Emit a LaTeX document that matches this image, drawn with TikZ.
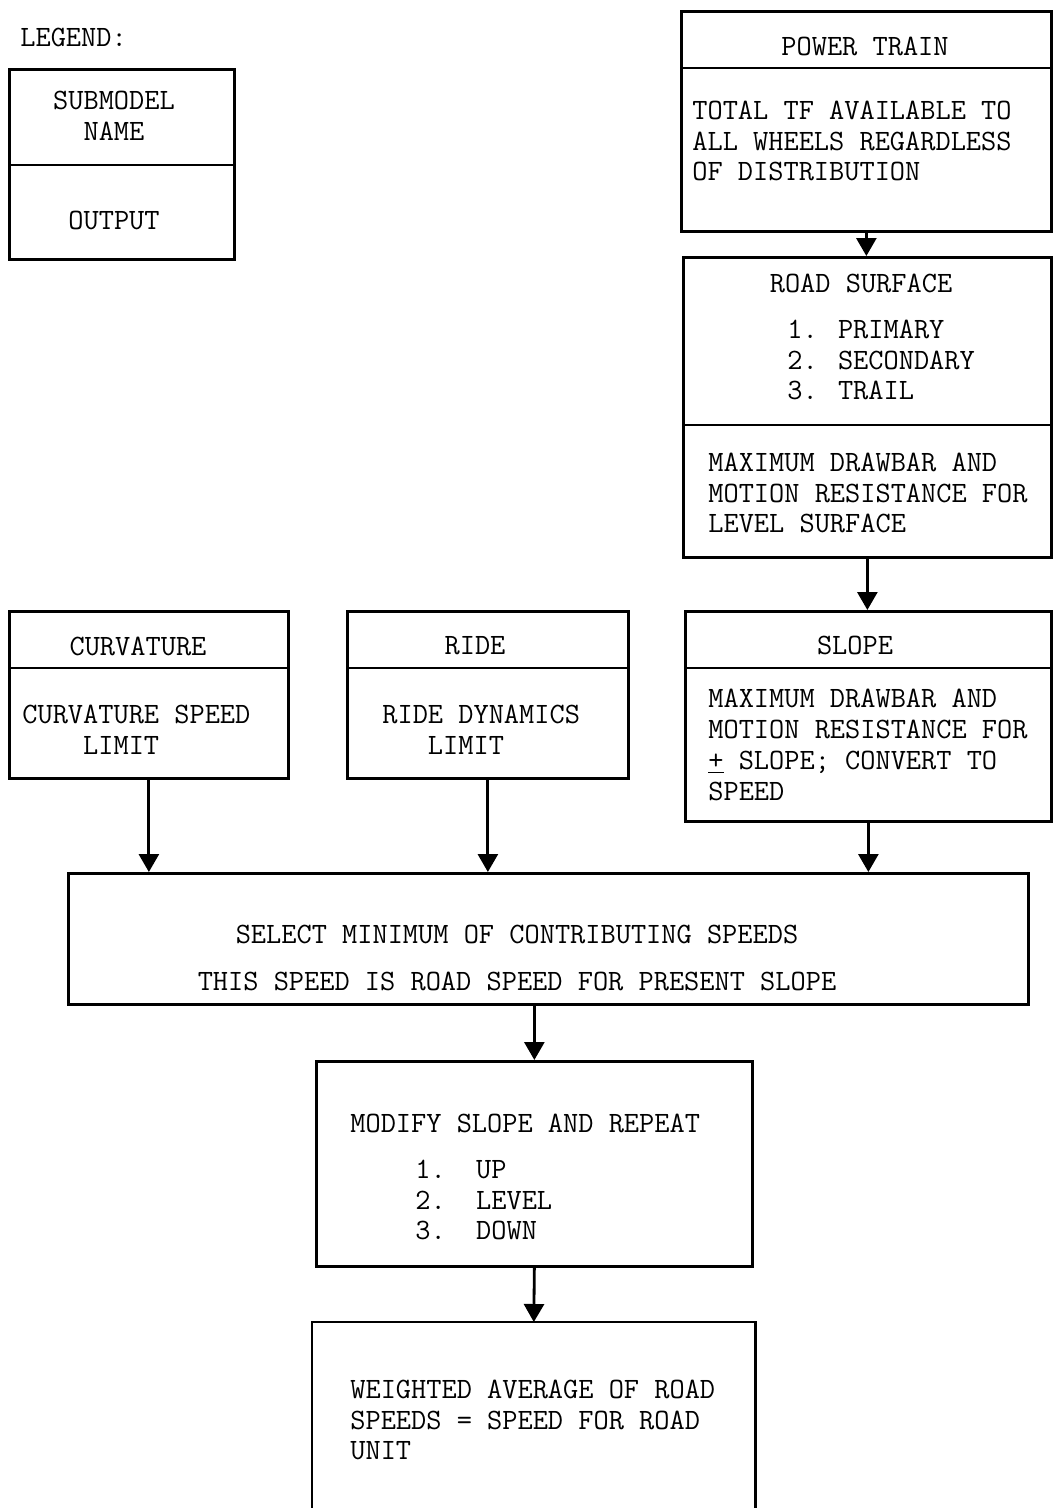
\documentclass[tikz,border=0pt]{standalone}
\usepackage{tikz}
\usetikzlibrary{arrows.meta}

\begin{document}
\begin{tikzpicture}[x=0.02cm,y=-0.02cm,
    typed/.style={font=\fontsize{16.8}{17.6}\selectfont\ttfamily,inner sep=0pt},
    submodel/.style={draw,line width=1.6pt,anchor=north west,inner sep=0pt},
    heading/.style={typed,anchor=center},
    output/.style={typed,align=left,anchor=west},
    divider/.style={line width=1.6pt},
    flow/.style={-{Triangle[width=0.4cm,length=0.36cm]},line width=1.6pt}
]
    \useasboundingbox (0,0) rectangle (1054,1508);

    \node[typed,anchor=west] (legend) at (20,37) {LEGEND:};
    \node[submodel,minimum width=4.5cm,minimum height=3.8cm] (key) at (8,68) {};
    \draw[divider] (key.west |- 0,165) -- (key.east |- 0,165);
    \node[heading,align=center] (keyname) at (114,116) {SUBMODEL\\NAME};
    \node[heading] (keyout) at (114,220) {OUTPUT};

    \node[submodel,minimum width=7.4cm,minimum height=4.4cm] (train) at (680,10) {};
    \draw[divider] (train.west |- 0,68) -- (train.east |- 0,68);
    \node[heading] (trainname) at (865,46) {POWER TRAIN};
    \node[output] (trainout) at (692,141)
        {TOTAL TF AVAILABLE TO\\ALL WHEELS REGARDLESS\\OF DISTRIBUTION};

    \node[submodel,minimum width=7.36cm,minimum height=6cm] (road) at (682,256) {};
    \draw[divider] (road.west |- 0,425) -- (road.east |- 0,425);
    \node[heading] (roadname) at (861,283) {ROAD SURFACE};
    \node[output] (roadlist) at (787,360) {1. PRIMARY\\2. SECONDARY\\3. TRAIL};
    \node[output] (roadout) at (708,493)
        {MAXIMUM DRAWBAR AND\\MOTION RESISTANCE FOR\\LEVEL SURFACE};

    \node[submodel,minimum width=7.32cm,minimum height=4.2cm] (slope) at (684,610) {};
    \draw[divider] (slope.west |- 0,668) -- (slope.east |- 0,668);
    \node[heading] (slopename) at (855,645) {SLOPE};
    \node[output] (slopeout) at (708,745)
        {MAXIMUM DRAWBAR AND\\MOTION RESISTANCE FOR\\\underline{+} SLOPE; CONVERT TO\\SPEED};

    \node[submodel,minimum width=5.58cm,minimum height=3.34cm] (curve) at (8,610) {};
    \draw[divider] (curve.west |- 0,668) -- (curve.east |- 0,668);
    \node[heading] (curvename) at (138,646) {CURVATURE};
    \node[output] (curveout) at (22,730) {CURVATURE SPEED\\~~~~LIMIT};

    \node[submodel,minimum width=5.62cm,minimum height=3.34cm] (ride) at (346,610) {};
    \draw[divider] (ride.west |- 0,668) -- (ride.east |- 0,668);
    \node[heading] (ridename) at (475,646) {RIDE};
    \node[output] (rideout) at (382,730) {RIDE DYNAMICS\\~~~LIMIT};

    \node[submodel,minimum width=19.2cm,minimum height=2.62cm] (select) at (67,872) {};
    \node[heading,align=center] (selecttext) at (517,958)
        {SELECT MINIMUM OF CONTRIBUTING SPEEDS\\[0.32cm]THIS SPEED IS ROAD SPEED FOR PRESENT SLOPE};

    \node[submodel,minimum width=8.72cm,minimum height=4.1cm] (modify) at (315,1060) {};
    \node[output] (modifytext) at (350,1123) {MODIFY SLOPE AND REPEAT};
    \node[output] (modifylist) at (415,1200) {1.~~UP\\2.~~LEVEL\\3.~~DOWN};

    \node[minimum width=8.86cm,minimum height=3.72cm,anchor=north west,inner sep=0pt]
        (average) at (312,1322) {};
    \draw[divider] (average.south west) -- (average.north west)
        -- (average.north east) -- (average.south east);
    \node[output] (averagetext) at (350,1420)
        {WEIGHTED AVERAGE OF ROAD\\SPEEDS = SPEED FOR ROAD\\UNIT};

    \draw[flow] (train.south) -- (train.south |- road.north);
    \draw[flow] (road.south) -- (road.south |- slope.north);
    \draw[flow] (slope.south) -- (slope.south |- select.north);
    \draw[flow] (curve.south) -- (curve.south |- select.north);
    \draw[flow] (ride.south) -- (ride.south |- select.north);
    \draw[flow] (modify.north |- select.south) -- (modify.north);
    \draw[flow] (modify.south) -- (average.north);
\end{tikzpicture}
\end{document}
